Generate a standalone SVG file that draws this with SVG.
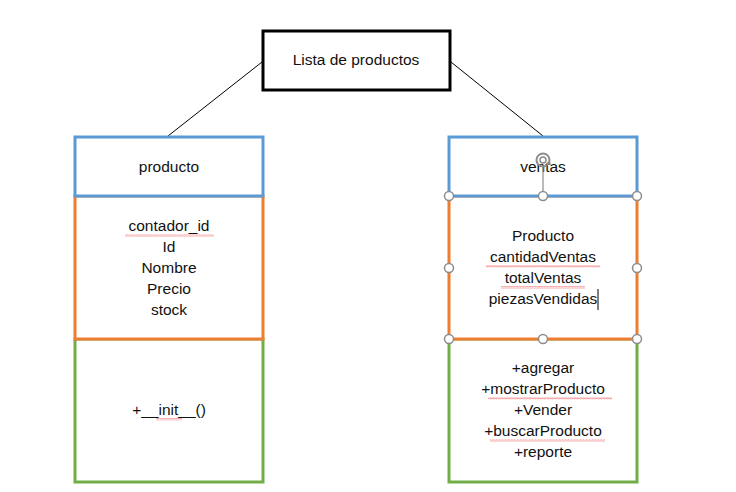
<svg xmlns="http://www.w3.org/2000/svg" width="736" height="492" viewBox="0 0 736 492">
<defs>
<style>
text{font-family:"Liberation Sans",Arial,sans-serif;font-size:15.5px;fill:#111;text-anchor:middle}
.hdr{fill:#fff;stroke:#5B9BD5;stroke-width:3}
.att{fill:#fff;stroke:#ED7D31;stroke-width:3}
.met{fill:#fff;stroke:#70AD47;stroke-width:3}
.conn{stroke:#000;stroke-width:1;fill:none}
.h{fill:#fff;stroke:#8c8c8c;stroke-width:1.5}
.sq{fill:url(#wave)}
</style>
<pattern id="wave" width="3" height="2.5" patternUnits="userSpaceOnUse">
<path d="M0,2 L0.75,0.5 L1.5,2 L2.25,0.5 L3,2" fill="none" stroke="#f07070" stroke-width="0.6"/>
</pattern>
</defs>
<rect width="736" height="492" fill="#fff"/>
<g id="connectors">
<line class="conn" x1="262" y1="62" x2="168" y2="136"/>
<line class="conn" x1="451" y1="62" x2="543" y2="136"/>
</g>
<g id="lista">
<rect x="263" y="31" width="187" height="59" fill="#fff" stroke="#000" stroke-width="3"/>
<text x="356" y="65">Lista de productos</text>
</g>
<g id="producto">
<rect class="met" x="75" y="339" width="188" height="143"/>
<rect class="att" x="75" y="196" width="188" height="143"/>
<rect class="hdr" x="75" y="137" width="188" height="59"/>
<text x="169" y="172">producto</text>
<text x="169" y="231">contador_id</text>
<text x="169" y="252">Id</text>
<text x="169" y="273">Nombre</text>
<text x="169" y="294">Precio</text>
<text x="169" y="315">stock</text>
<text x="169" y="415">+__init__()</text>
<rect class="sq" x="125" y="234" width="89" height="2.5"/>
<rect class="sq" x="156" y="418" width="26" height="2.5"/>
</g>
<g id="ventas">
<rect class="met" x="449" y="339" width="188" height="143"/>
<rect class="att" x="449" y="196" width="188" height="143"/>
<rect class="hdr" x="449" y="137" width="188" height="59"/>
<text x="543" y="172">ventas</text>
<text x="543" y="241">Producto</text>
<text x="543" y="262">cantidadVentas</text>
<text x="543" y="283">totalVentas</text>
<text x="543" y="304">piezasVendidas</text>
<line x1="598" y1="289" x2="598" y2="310" stroke="#000" stroke-width="1"/>
<text x="543" y="373">+agregar</text>
<text x="543" y="394">+mostrarProducto</text>
<text x="543" y="415">+Vender</text>
<text x="543" y="436">+buscarProducto</text>
<text x="543" y="457">+reporte</text>
<rect class="sq" x="486" y="265" width="114" height="2.5"/>
<rect class="sq" x="501" y="286" width="84" height="2.5"/>
<rect class="sq" x="488" y="397" width="124" height="2.5"/>
<rect class="sq" x="490" y="439" width="115" height="2.5"/>
</g>
<g id="selection">
<line x1="543" y1="166" x2="543" y2="196" stroke="#8c8c8c" stroke-width="1.2"/>
<circle cx="543" cy="160" r="6.5" fill="none" stroke="#8c8c8c" stroke-width="2"/>
<circle cx="543" cy="160" r="3" fill="none" stroke="#8c8c8c" stroke-width="1.5"/>
<path d="M547,164 l4,1 l-1,-4 z" fill="#8c8c8c"/>
<circle class="h" cx="449" cy="196" r="4.5"/>
<circle class="h" cx="543" cy="196" r="4.5"/>
<circle class="h" cx="637" cy="196" r="4.5"/>
<circle class="h" cx="449" cy="268" r="4.5"/>
<circle class="h" cx="637" cy="268" r="4.5"/>
<circle class="h" cx="449" cy="339" r="4.5"/>
<circle class="h" cx="543" cy="339" r="4.5"/>
<circle class="h" cx="637" cy="339" r="4.5"/>
</g>
</svg>
